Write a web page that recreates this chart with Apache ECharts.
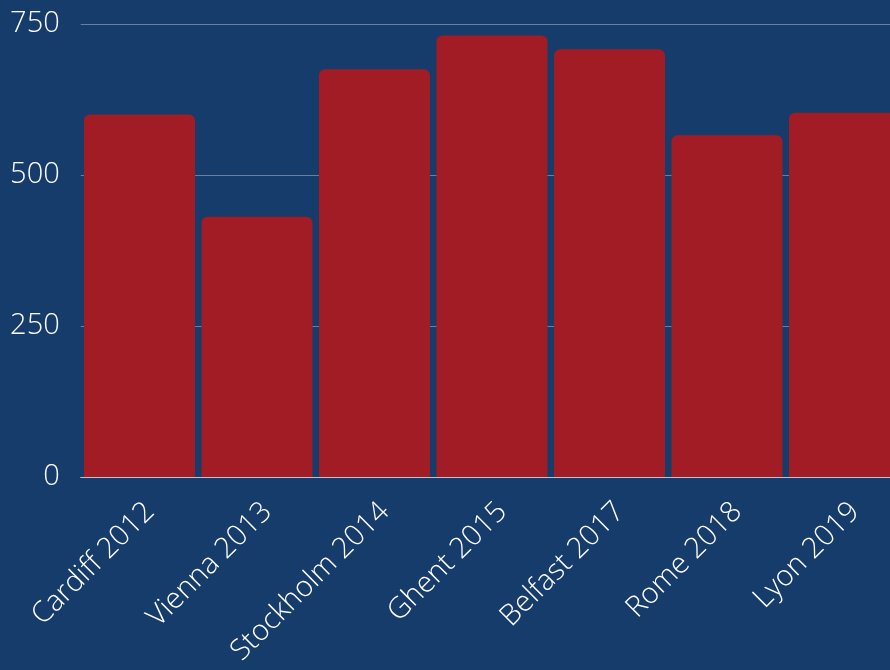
<!DOCTYPE html>
<html>
<head>
<meta charset="utf-8">
<script src="https://cdn.jsdelivr.net/npm/echarts@6/dist/echarts.min.js"></script>
<style>
  html, body { margin: 0; padding: 0; background: #163c6b; overflow: hidden; }
  /* plot runs past the right edge in the original, so the chart is a bit wider than the window */
  #main { width: 904px; height: 670px; }
</style>
</head>
<body>
<div id="main"></div>
<script>
var categories = ["Cardiff 2012", "Vienna 2013", "Stockholm 2014", "Ghent 2015", "Belfast 2017", "Rome 2018", "Lyon 2019"];
var values = [600, 431, 675, 731, 708, 566, 603];
var yTicks = [0, 250, 500, 750];

var chart = echarts.init(document.getElementById('main'));

var option = {
	backgroundColor: "#163c6b",
	animation: false,
	grid: {
		left: 80.75,
		right: 0.75,
		top: 24,
		bottom: 193,
		containLabel: false
	},
	xAxis: {
		type: "category",
		data: categories,
		axisLine: { show: true, lineStyle: { color: "#b9c3d3", width: 1 } },
		axisTick: { show: false },
		axisLabel: {
			rotate: 45,
			margin: 20,
			verticalAlign: "top",
			color: "#ffffff",
			fontFamily: "Open Sans",
			fontWeight: 300,
			fontSize: 29
		}
	},
	yAxis: {
		type: "value",
		min: yTicks[0],
		max: yTicks[yTicks.length - 1],
		interval: 250,
		axisLine: { show: false },
		axisTick: { show: false },
		splitLine: { lineStyle: { color: "rgba(255,255,255,0.35)", width: 1 } },
		axisLabel: {
			margin: 21,
			color: "#ffffff",
			fontFamily: "Open Sans",
			fontWeight: 300,
			fontSize: 29
		}
	},
	series: [{
		type: "bar",
		data: values,
		barCategoryGap: "5.5%",
		itemStyle: { color: "#a11c25", borderRadius: [6, 6, 0, 0] }
	}]
};

chart.setOption(option);
</script>
</body>
</html>
